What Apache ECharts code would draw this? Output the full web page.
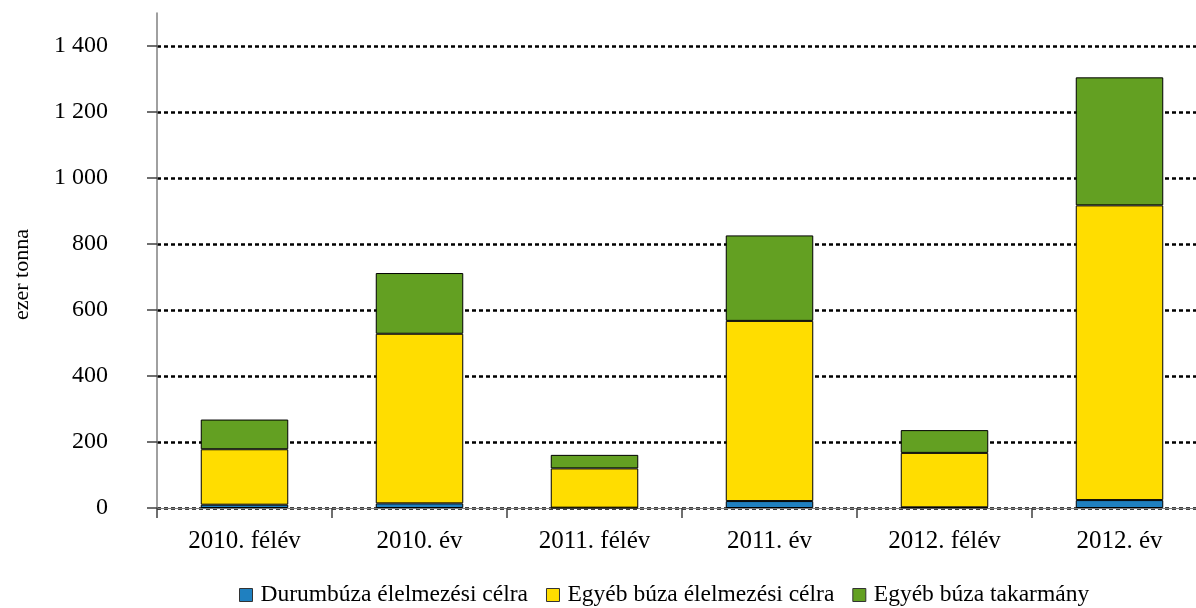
<!DOCTYPE html>
<html>
<head>
<meta charset="utf-8">
<script src="https://cdn.jsdelivr.net/npm/echarts@6/dist/echarts.min.js"></script>
<style>html,body{margin:0;padding:0;background:#fff}#c{width:1196px;height:608px}</style>
</head>
<body>
<div id="c"></div>
<script>
const categories = ['2010. félév', '2010. év', '2011. félév', '2011. év', '2012. félév', '2012. év'];
const durum = [10, 14, 1, 21, 2, 24];
const egyebElelmezesi = [168, 514, 119, 546, 165, 893];
const egyebTakarmany = [90, 184, 41, 259, 69, 388];
const yTicks = [0, 200, 400, 600, 800, 1000, 1200, 1400];
const seriesNames = ['Durumbúza élelmezési célra', 'Egyéb búza élelmezési célra', 'Egyéb búza takarmány'];

const FONT = 'Liberation Serif';
const chart = echarts.init(document.getElementById('c'), null, {renderer: 'canvas'});
const barStyle = (color) => ({color: color, borderColor: '#000', borderWidth: 1});
chart.setOption({
  animation: false,
  textStyle: {fontFamily: FONT, color: '#000'},
  grid: {left: 157, width: 1050, top: 13, bottom: 100, containLabel: false, outerBoundsMode: 'none'},
  legend: {
    left: 239, top: 583, padding: 0,
    itemWidth: 13, itemHeight: 13, itemGap: 18,
    textStyle: {fontFamily: FONT, fontSize: 23.5, color: '#000', padding: [0, 0, 0, 3]},
    data: seriesNames.map(n => ({name: n, icon: 'rect', itemStyle: {borderColor: '#333', borderWidth: 1}}))
  },
  xAxis: {
    type: 'category', data: categories,
    axisLine: {lineStyle: {color: '#808080', width: 1}},
    axisTick: {show: true, length: 10, lineStyle: {color: '#404040', width: 1.5}},
    axisLabel: {fontFamily: FONT, fontSize: 25, color: '#000', margin: 21}
  },
  yAxis: {
    type: 'value', min: 0, max: 1500, interval: 100,
    name: 'ezer tonna', nameLocation: 'middle', nameGap: 124, nameRotate: 90,
    nameTextStyle: {fontFamily: FONT, fontSize: 22, color: '#000', padding: [0, 28, 0, 0]},
    axisLine: {show: true, lineStyle: {color: '#808080', width: 1.5}},
    axisTick: {show: true, inside: false, length: 10, customValues: yTicks, lineStyle: {color: '#404040', width: 1.5}},
    axisLabel: {fontFamily: FONT, fontSize: 24, color: '#000', margin: 49, customValues: yTicks,
      formatter: v => String(v).replace(/\B(?=(\d{3})+(?!\d))/g, ' ')},
    splitLine: {show: true, showMaxLine: true, lineStyle: {color: '#000', width: 2.5, type: [4, 3]}}
  },
  series: [
    {name: seriesNames[0], type: 'bar', stack: 't', data: durum, barWidth: '50%', itemStyle: barStyle('#1F80C0')},
    {name: seriesNames[1], type: 'bar', stack: 't', data: egyebElelmezesi, itemStyle: barStyle('#FFDD00')},
    {name: seriesNames[2], type: 'bar', stack: 't', data: egyebTakarmany, itemStyle: barStyle('#63A022')}
  ]
});
</script>
</body>
</html>
